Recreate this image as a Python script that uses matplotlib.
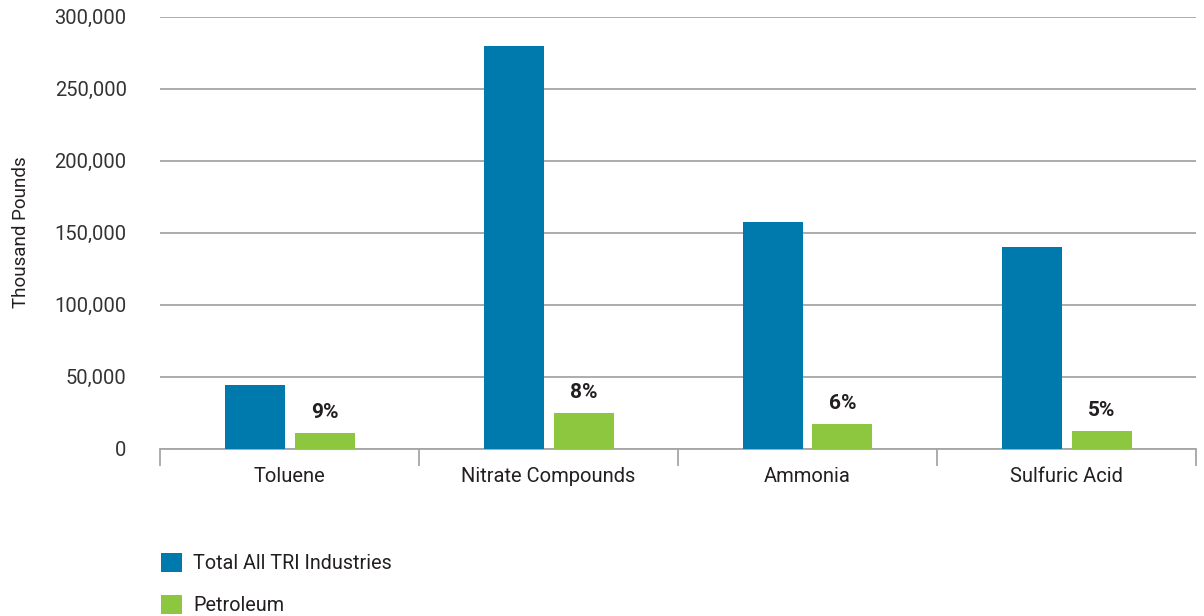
import matplotlib
matplotlib.use("Agg")
import matplotlib.pyplot as plt
from matplotlib.patches import Patch
from matplotlib.ticker import FuncFormatter
import numpy as np

plt.rcParams['font.family'] = ['Roboto', 'DejaVu Sans']

categories = ["Toluene", "Nitrate Compounds", "Ammonia", "Sulfuric Acid"]
total_all = [44000, 279600, 157300, 139900]
petroleum = [10600, 24700, 16900, 12000]
share_labels = ["9%", "8%", "6%", "5%"]
series_names = ["Total All TRI Industries", "Petroleum"]

BLUE = "#0079ad"
GREEN = "#8dc63f"
GRID = "#a6a6a6"
TEXT = "#231f20"

W, H = 1204, 616
fig = plt.figure(figsize=(W / 100, H / 100), dpi=100)
ax = fig.add_axes([160 / W, 1 - 448.5 / H, (1196 - 160) / W, (448.5 - 16.7) / H])

x = np.arange(len(categories))
bw = 60 / 259
off = 35 / 259
ax.bar(x - off, total_all, width=bw, color=BLUE, zorder=3)
bars = ax.bar(x + off, petroleum, width=bw, color=GREEN, zorder=3)

for rect, lab in zip(bars, share_labels):
    ax.annotate(lab, (rect.get_x() + rect.get_width() / 2, rect.get_height()),
                xytext=(0, 8), textcoords="offset points", ha="center", va="bottom",
                fontsize=15, fontweight="bold", color=TEXT)

ax.set_xlim(-0.5, len(categories) - 0.5)
ax.set_ylim(0, 300000)
ax.set_yticks(np.arange(0, 300001, 50000))
ax.yaxis.set_major_formatter(FuncFormatter(lambda v, p: f"{int(v):,}"))
ax.grid(axis="y", color=GRID, linewidth=1.3, zorder=0)
ax.set_axisbelow(True)

ax.set_xticks(x)
ax.set_xticklabels(categories)
ax.set_xticks(np.arange(-0.5, len(categories)), minor=True)
ax.tick_params(axis="x", which="major", length=0, pad=13, labelsize=14.5, labelcolor=TEXT)
ax.tick_params(axis="x", which="minor", length=12, width=1.3, color=GRID)
ax.tick_params(axis="y", length=0, pad=24, labelsize=14.5, labelcolor="#333333")

for s in ["left", "right", "top"]:
    ax.spines[s].set_visible(False)
ax.spines["bottom"].set_color(GRID)
ax.spines["bottom"].set_linewidth(1.3)

ax.set_ylabel("Thousand Pounds", fontsize=13.5, color=TEXT)
ax.yaxis.set_label_coords(-130 / 1036, 0.5)

handles = [Patch(facecolor=BLUE), Patch(facecolor=GREEN)]
fig.legend(handles, series_names, loc="upper left",
           bbox_to_anchor=(143 / W, 1 - 535 / H), frameon=False,
           fontsize=14.2, handlelength=1.1, handleheight=1.1,
           handletextpad=0.55, labelspacing=1.12, labelcolor=TEXT)

fig.savefig("out.png", dpi=100, facecolor="white")
